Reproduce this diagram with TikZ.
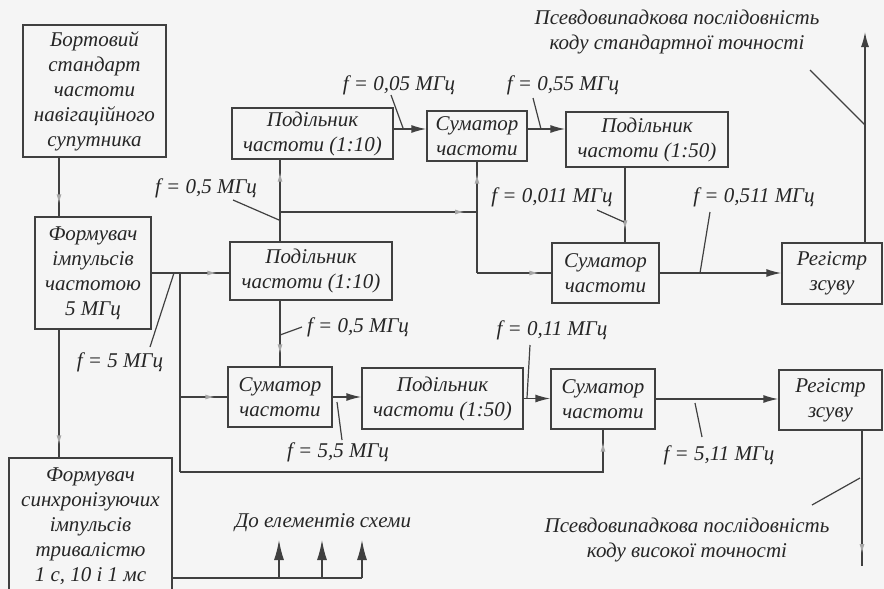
\documentclass[tikz,border=0pt]{standalone}
\usepackage{fontspec}
\setmainfont{Liberation Serif}
\usetikzlibrary{arrows.meta,decorations.markings,calc}
\newcommand\schfont{\fontsize{21}{25}\selectfont\itshape}
\begin{document}
\begin{tikzpicture}[x=1pt,y=-1pt,
  ink/.style={draw=black!75, line width=1.4pt},
  blk/.style={ink, align=center, inner sep=0pt, text=black!85, font=\schfont},
  lbl/.style={text=black!85, font=\schfont, inner sep=0pt, align=center},
  wire/.style={ink},
  arr/.style={ink, -{Latex[length=15pt,width=8pt]}},
  uparr/.style={ink, -{Latex[length=20pt,width=10pt]}},
  faint/.style={ink, postaction={decorate},
    decoration={markings, mark=at position -12pt with {\arrow{Latex[length=10pt,width=5pt,color=black!35]}}}},
  tick/.style={draw=black!75, line width=1.2pt}
]
\useasboundingbox (0,0) rectangle (884,589);
\fill[black!4] (0,0) rectangle (884,589);

% blocks
\node[blk, minimum width=143pt, minimum height=132pt] (bort) at (94.5,91)
  {Бортовий\\стандарт\\частоти\\навігаційного\\супутника};
\node[blk, minimum width=116pt, minimum height=112pt] (form) at (93,273)
  {Формувач\\імпульсів\\частотою\\5 МГц};
\node[blk, minimum width=161pt, minimum height=51pt] (div1) at (312.5,133.5)
  {Подільник\\частоти (1:10)};
\node[blk, minimum width=100pt, minimum height=50pt] (sum1) at (477,136)
  {Суматор\\частоти};
\node[blk, minimum width=162pt, minimum height=55pt] (div2) at (647,139.5)
  {Подільник\\частоти (1:50)};
\node[blk, minimum width=162pt, minimum height=58pt] (div3) at (311,271)
  {Подільник\\частоти (1:10)};
\node[blk, minimum width=107pt, minimum height=60pt] (sum2) at (605.5,273)
  {Суматор\\частоти};
\node[blk, minimum width=100pt, minimum height=61pt] (reg1) at (832,273.5)
  {Регістр\\зсуву};
\node[blk, minimum width=104pt, minimum height=60pt] (sum3) at (280,397)
  {Суматор\\частоти};
\node[blk, minimum width=161pt, minimum height=61pt] (div4) at (442.5,398.5)
  {Подільник\\частоти (1:50)};
\node[blk, minimum width=104pt, minimum height=60pt] (sum4) at (603,399)
  {Суматор\\частоти};
\node[blk, minimum width=103pt, minimum height=60pt] (reg2) at (830.5,400)
  {Регістр\\зсуву};
\node[blk, minimum width=163pt, minimum height=137pt] (sync) at (90.5,526.5)
  {Формувач\\синхронізуючих\\імпульсів\\тривалістю\\1 с, 10 і 1 мс};

% routing points
\coordinate (colD) at (59,0);
\coordinate (jA) at (180,273);
\coordinate (jB) at (180,472);
\coordinate (jC) at (280,212);
\coordinate (jD) at (sum1.south |- jC);
\coordinate (jE) at (sum1.south |- sum2.west);
\coordinate (rowA) at (0,129);
\coordinate (colB) at (625,0);
\coordinate (outA) at (865,32);
\coordinate (outB) at (862,566);
\coordinate (busE) at (362,578);
\coordinate (upA) at (279,540);
\coordinate (upB) at (322,540);
\coordinate (upC) at (362,540);

% connectors
\draw[faint] (bort.south -| colD) -- (form.north -| colD);
\draw[faint] (form.south -| colD) -- (sync.north -| colD);
\draw[wire] (form.east |- jA) -- (jA);
\draw[faint] (jA) -- (jA -| div3.west);
\draw[wire] (jA) -- (jB);
\draw[faint] (jA |- sum3.west) -- (sum3.west);
\draw[faint] (jB) -- (jB -| sum4.south) -- (sum4.south);
\draw[faint] (jC) -- (jC |- div1.south);
\draw[wire] (jC) -- (jC |- div3.north);
\draw[faint] (jC) -- (jD);
\draw[faint] (jD) -- (sum1.south);
\draw[wire] (jD) -- (jE);
\draw[faint] (jE) -- (sum2.west);
\draw[arr] (div1.east |- rowA) -- (sum1.west |- rowA);
\draw[arr] (sum1.east |- rowA) -- (div2.west |- rowA);
\draw[faint] (div2.south -| colB) -- (sum2.north -| colB);
\draw[arr] (sum2.east) -- (sum2.east -| reg1.west);
\draw[arr] (reg1.north -| outA) -- (outA);
\draw[faint] (div3.south -| jC) -- (sum3.north -| jC);
\draw[arr] (sum3.east) -- (sum3.east -| div4.west);
\draw[arr] (div4.east) -- (div4.east -| sum4.west);
\draw[arr] (sum4.east) -- (sum4.east -| reg2.west);
\draw[faint] (reg2.south -| outB) -- (outB);
\draw[wire] (sync.east |- busE) -- (busE);
\draw[uparr] (upA |- busE) -- (upA);
\draw[uparr] (upB |- busE) -- (upB);
\draw[uparr] (busE) -- (upC);

% frequency labels with leaders
\node[lbl] (f5) at (120,362) {f = 5 МГц};
\draw[tick] (150,347) -- (174,273);
\node[lbl] (f05a) at (206,188) {f = 0,5 МГц};
\draw[tick] (233,200) -- (279,220);
\node[lbl] (f005) at (399,85) {f = 0,05 МГц};
\draw[tick] (391,95) -- (403,128);
\node[lbl] (f055) at (563,85) {f = 0,55 МГц};
\draw[tick] (533,98) -- (541,129);
\node[lbl] (f0011) at (552,197) {f = 0,011 МГц};
\draw[tick] (597,210) -- (624,222);
\node[lbl] (f0511) at (754,197) {f = 0,511 МГц};
\draw[tick] (710,212) -- (700,273);
\node[lbl] (f05b) at (358,327) {f = 0,5 МГц};
\draw[tick] (302,327) -- (280,335);
\node[lbl] (f55) at (338,452) {f = 5,5 МГц};
\draw[tick] (342,440) -- (337,402);
\node[lbl] (f011) at (552,330) {f = 0,11 МГц};
\draw[tick] (530,345) -- (527,398);
\node[lbl] (f511) at (719,455) {f = 5,11 МГц};
\draw[tick] (702,437) -- (695,403);

% output labels
\node[lbl] (codeA) at (677,32) {Псевдовипадкова послідовність\\коду стандартної точності};
\draw[tick] (810,70) -- (865,125);
\node[lbl] (codeB) at (687,540) {Псевдовипадкова послідовність\\коду високої точності};
\draw[tick] (812,505) -- (860,478);
\node[lbl] (toel) at (323,523) {До елементів схеми};
\end{tikzpicture}
\end{document}
